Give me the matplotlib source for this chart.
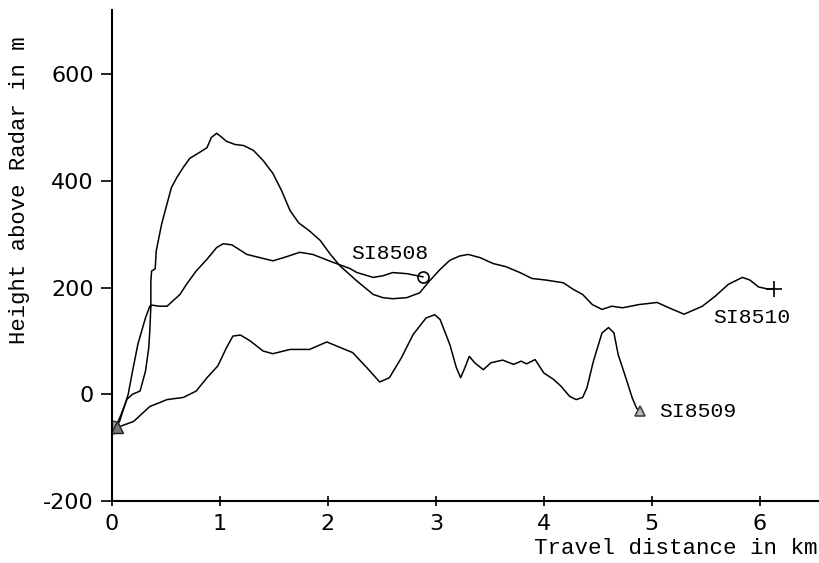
import matplotlib
matplotlib.use("Agg")
import matplotlib.pyplot as plt

# SI8510 (tall curve)
x_8510 = [0.03, 0.07, 0.14, 0.19, 0.26, 0.31, 0.34, 0.35, 0.36, 0.36, 0.367, 0.40, 0.41, 0.46, 0.51,
          0.55, 0.60, 0.66, 0.72, 0.81, 0.88, 0.92, 0.97, 1.02, 1.06, 1.14, 1.22, 1.31, 1.40, 1.49,
          1.57, 1.65, 1.73, 1.83, 1.93, 2.02, 2.11, 2.27, 2.42, 2.51, 2.60, 2.73, 2.85, 2.94, 3.04,
          3.13, 3.22, 3.30, 3.41, 3.53, 3.65, 3.78, 3.89, 4.02, 4.18, 4.27, 4.36, 4.45, 4.54, 4.63,
          4.73, 4.88, 5.05, 5.16, 5.30, 5.47, 5.59, 5.71, 5.84, 5.91, 5.99, 6.08, 6.13]
y_8510 = [-62, -45, -9, 0, 6, 43, 86, 118, 165, 212, 231, 235, 269, 319, 357,
          387, 406, 425, 442, 453, 462, 481, 489, 481, 474, 468, 466, 457, 438, 414,
          382, 344, 321, 306, 288, 263, 241, 212, 187, 181, 179, 181, 190, 212, 234,
          251, 259, 262, 256, 245, 239, 228, 217, 214, 209, 197, 187, 168, 159, 165,
          162, 168, 172, 162, 150, 165, 184, 206, 219, 214, 201, 197, 198]

# SI8508 (middle curve)
x_8508 = [0.03, 0.07, 0.15, 0.19, 0.24, 0.31, 0.35, 0.37, 0.44, 0.51, 0.63, 0.69, 0.78, 0.88,
          0.97, 1.03, 1.11, 1.25, 1.37, 1.49, 1.59, 1.74, 1.86, 2.05, 2.20, 2.27, 2.42, 2.51,
          2.60, 2.73, 2.88]
y_8508 = [-62, -51, 0, 43, 94, 143, 165, 167, 165, 165, 187, 206, 231, 253,
          275, 282, 280, 262, 256, 250, 256, 266, 262, 247, 236, 228, 219, 222,
          228, 226, 220]

# SI8509 (lower curve)
x_8509 = [0.05, 0.20, 0.35, 0.51, 0.66, 0.78, 0.88, 0.98, 1.06, 1.12, 1.19, 1.28, 1.40, 1.49,
          1.65, 1.83, 1.99, 2.11, 2.23, 2.36, 2.48, 2.57, 2.68, 2.79, 2.91, 2.99, 3.04, 3.13,
          3.19, 3.23, 3.27, 3.31, 3.36, 3.44, 3.51, 3.62, 3.72, 3.79, 3.84, 3.92, 4.00, 4.09,
          4.16, 4.24, 4.30, 4.36, 4.40, 4.46, 4.54, 4.60, 4.65, 4.69, 4.76, 4.82, 4.86, 4.89]
y_8509 = [-62, -51, -23, -10, -6, 6, 31, 53, 87, 109, 111, 100, 81, 76,
          84, 84, 98, 88, 78, 50, 23, 31, 68, 112, 143, 149, 140, 93,
          50, 31, 50, 71, 59, 46, 59, 64, 56, 62, 57, 65, 40, 28,
          15, -4, -10, -6, 12, 62, 115, 125, 115, 74, 31, -7, -26, -32]

names = ["SI8508", "SI8510", "SI8509"]
xticks = [0, 1, 2, 3, 4, 5, 6]
yticks = [-200, 0, 200, 400, 600]

plt.rcParams['font.family'] = ['DejaVu Sans']
plt.rcParams['axes.unicode_minus'] = False
fig = plt.figure(figsize=(8.19, 5.63), dpi=100)
ax = fig.add_axes([112 / 819, 1 - 501 / 563, 1 - 112 / 819, (501 - 10) / 563])

lw = 1.1
ax.plot(x_8510, y_8510, color='black', lw=lw)
ax.plot(x_8508, y_8508, color='black', lw=lw)
ax.plot(x_8509, y_8509, color='black', lw=lw)

# end markers
ax.plot(x_8508[-1], y_8508[-1], marker='o', ms=8, mfc='none', mec='black', mew=1.2)
ax.plot(x_8510[-1], y_8510[-1], marker='+', ms=12, color='black', mew=1.2)
ax.plot(x_8509[-1], y_8509[-1], marker='^', ms=7, mfc='#bbbbbb', mec='#444444', mew=1.2)
# start markers
ax.plot(x_8508[0] - 0.02, y_8508[0], marker='o', ms=9, mfc='#999999', mec='#333333', mew=1.0)
ax.plot(x_8509[0], y_8509[0], marker='^', ms=9, mfc='#777777', mec='#222222', mew=1.0)

mono = 'Liberation Mono'
ax.text(2.22, 264, names[0], fontsize=15.4, family=mono, ha='left', va='center')
ax.text(5.57, 143, names[1], fontsize=15.4, family=mono, ha='left', va='center')
ax.text(5.07, -32, names[2], fontsize=15.4, family=mono, ha='left', va='center')

ax.set_xlim(0, 6.55)
ax.set_ylim(-200, 720)
ax.set_xticks(xticks)
ax.set_yticks(yticks)
ax.tick_params(axis='y', direction='out', length=8, width=1.2, labelsize=16, pad=5)
ax.tick_params(axis='x', direction='inout', length=7, width=1.2, labelsize=16, pad=6)
for s in ['top', 'right']:
    ax.spines[s].set_visible(False)
for s in ['left', 'bottom']:
    ax.spines[s].set_linewidth(1.5)

fig.text(818 / 819, 1 - 549 / 563, "Travel distance in km", fontsize=16.2, family=mono,
         ha='right', va='center')
fig.text(20 / 819, 1 - 190 / 563, "Height above Radar in m", fontsize=16.0, family=mono,
         ha='center', va='center', rotation=90)

fig.savefig("out.png", dpi=100)
